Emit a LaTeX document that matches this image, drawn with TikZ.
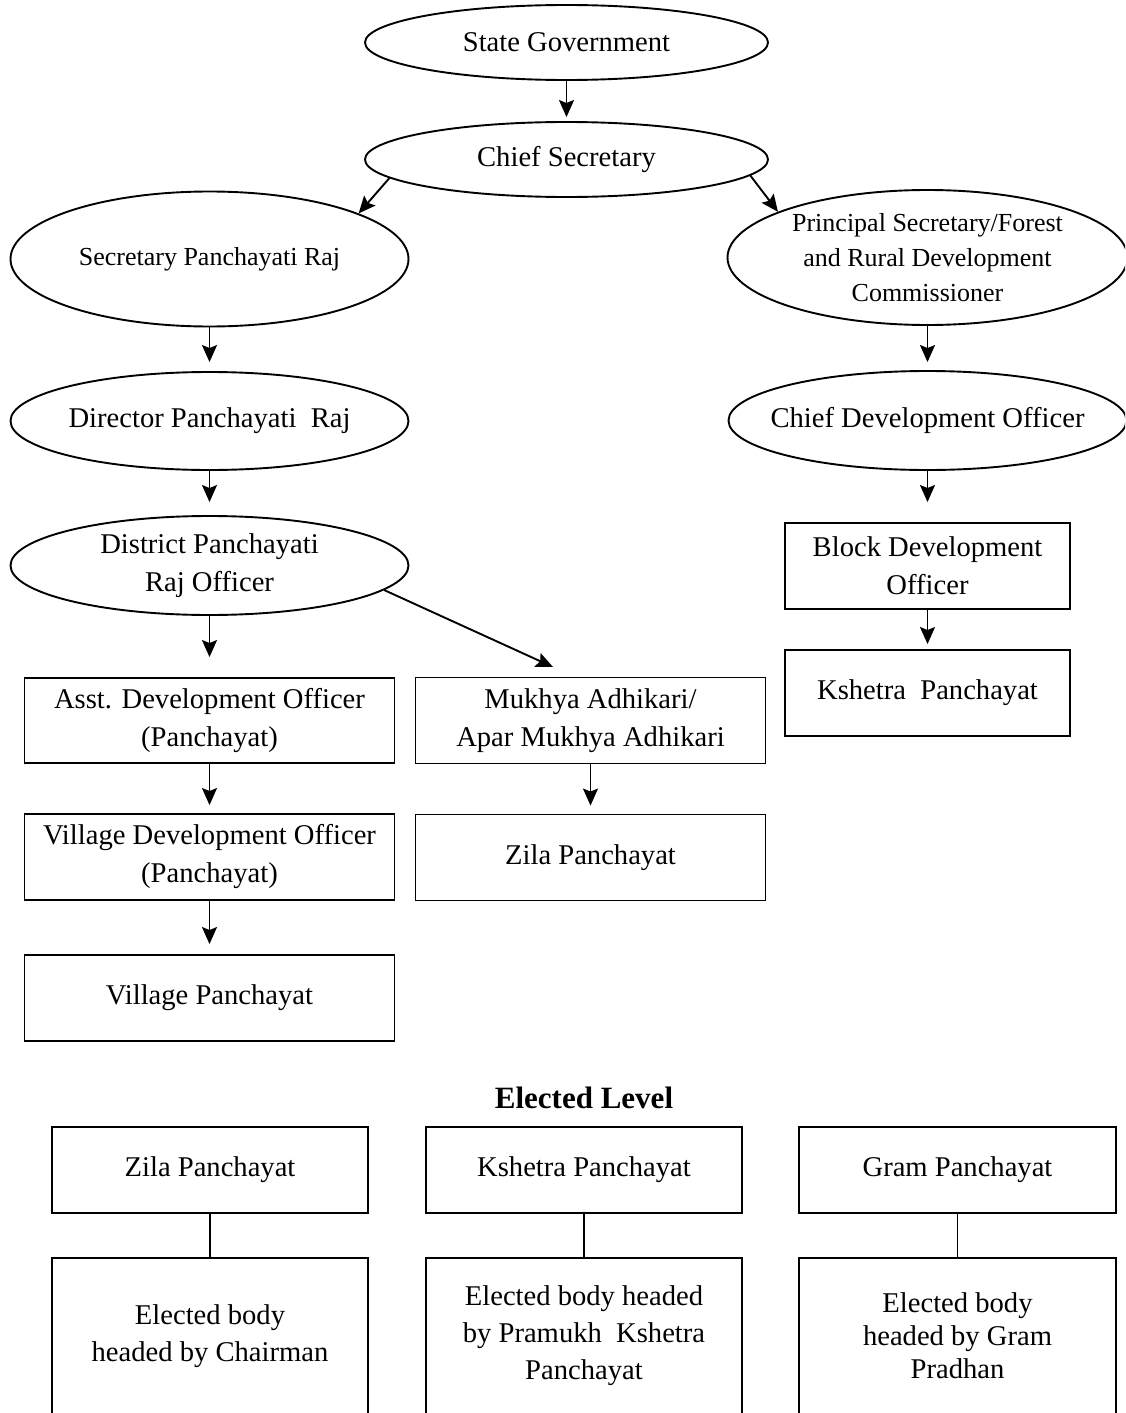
\documentclass[tikz,border=0pt]{standalone}
\usepackage{fontspec}
\setmainfont{Liberation Serif}
\usetikzlibrary{arrows.meta,shapes.geometric}

\begin{document}
\begin{tikzpicture}[x=0.5pt,y=-0.5pt,line width=0.95pt,
  every node/.style={font=\fontsize{14.3}{19}\selectfont,align=center},
  oval/.style={ellipse,draw,inner xsep=-30pt,inner ysep=-10pt},
  small/.style={font=\fontsize{13}{17.5}\selectfont},
  blk/.style={rectangle,draw,inner sep=0pt},
  arr/.style={-{Stealth[length=8.5pt,width=7.5pt,inset=1.5pt]}}]
  \useasboundingbox (0,0) rectangle (1125,1413);
  \clip (0,0) rectangle (1125,1413);
  \node[oval,minimum width=201.5pt,minimum height=37.5pt] (sg) at (566.5,42.5) {State Government};
  \node[oval,minimum width=201.5pt,minimum height=37.5pt] (cs) at (566.5,159.5) {Chief Secretary};
  \node[oval,small,minimum width=199pt,minimum height=67.5pt] (spr) at (209.5,259) {Secretary Panchayati Raj};
  \node[oval,small,minimum width=200pt,minimum height=67.5pt] (psec) at (927.5,257.5)
    {Principal Secretary/Forest\\and Rural Development\\Commissioner};
  \node[oval,minimum width=199pt,minimum height=49pt] (dpr) at (209.5,421) {Director Panchayati\ \ Raj};
  \node[oval,minimum width=199pt,minimum height=49.5pt] (cdo) at (927.5,420.5) {Chief Development Officer};
  \node[oval,minimum width=199pt,minimum height=49.5pt] (dpro) at (209.5,565.5) {District Panchayati\\Raj Officer};
  \node[blk,minimum width=142.5pt,minimum height=43pt] (bdo) at (927.5,566) {Block Development\\Officer};
  \node[blk,minimum width=142.5pt,minimum height=43pt] (ksh) at (927.5,693) {Kshetra\ \ Panchayat};
  \node[blk,minimum width=185pt,minimum height=42.5pt] (ado) at (209.5,720.5) {Asst. Development Officer\\(Panchayat)};
  \node[blk,minimum width=175pt,minimum height=43pt] (mukhya) at (590.5,720.5) {Mukhya Adhikari/\\Apar Mukhya Adhikari};
  \node[blk,minimum width=185pt,minimum height=43pt] (vdo) at (209.5,857) {Village Development Officer\\(Panchayat)};
  \node[blk,minimum width=175pt,minimum height=43pt] (zila) at (590.5,857.5) {Zila Panchayat};
  \node[blk,minimum width=185pt,minimum height=43pt] (vp) at (209.5,998) {Village Panchayat};
  \coordinate (mtip) at (553,667);
  \draw[arr,shorten >=2pt] (sg) -- (cs);
  \draw[arr] (cs.186) -- (spr.17);
  \draw[arr] (cs.355) -- (psec.163);
  \draw[arr,shorten >=4.5pt] (spr) -- (dpr);
  \draw[arr,shorten >=4pt] (psec) -- (cdo);
  \draw[arr,shorten >=6.5pt] (dpr) -- (dpro);
  \draw[arr,shorten >=10pt] (cdo) -- (bdo);
  \draw[arr,shorten >=2.5pt] (bdo) -- (ksh);
  \draw[arr,shorten >=10pt] (dpro) -- (ado);
  \draw[arr] (dpro.-8) -- (mtip);
  \draw[arr,shorten >=4pt] (ado) -- (vdo);
  \draw[arr,shorten >=4pt] (mukhya) -- (zila);
  \draw[arr,shorten >=5pt] (vdo) -- (vp);
  \node[font=\fontsize{15.5}{19}\selectfont\bfseries] (el) at (584,1098) {Elected Level};
  \node[blk,minimum width=158pt,minimum height=43pt] (ez) at (210,1170) {Zila Panchayat};
  \node[blk,minimum width=158pt,minimum height=43pt] (ek) at (584,1170) {Kshetra Panchayat};
  \node[blk,minimum width=158.5pt,minimum height=43pt] (eg) at (957.5,1170) {Gram Panchayat};
  \node[blk,minimum width=158pt,minimum height=78pt,font=\fontsize{14.3}{18.5}\selectfont] (ezb) at (210,1336)
    {Elected body\\headed by Chairman};
  \node[blk,minimum width=158pt,minimum height=78pt,font=\fontsize{14.3}{18.5}\selectfont] (ekb) at (584,1336)
    {Elected body headed\\by Pramukh\ \ Kshetra\\Panchayat};
  \node[blk,minimum width=158.5pt,minimum height=78pt,font=\fontsize{14.3}{16.5}\selectfont] (egb) at (957.5,1336)
    {Elected body\\headed by Gram\\Pradhan};
  \draw (ez) -- (ezb);
  \draw (ek) -- (ekb);
  \draw (eg) -- (egb);
\end{tikzpicture}
\end{document}
